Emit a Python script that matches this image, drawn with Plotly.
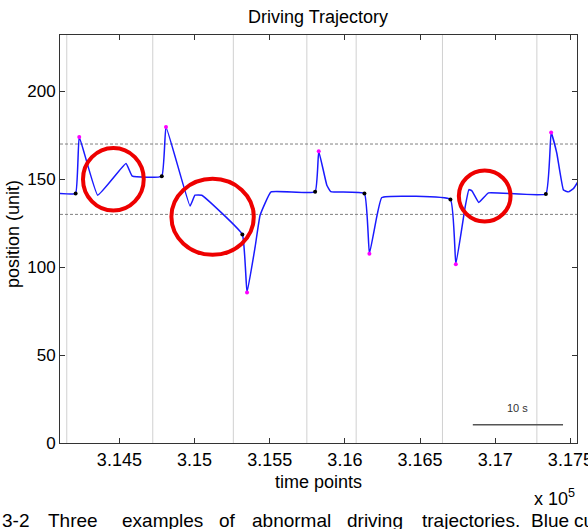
import plotly.graph_objects as go

# ---------------- data ----------------
# trajectory (time point, position)
traj_t = [314105, 314209, 314233, 314356, 314544, 314586, 314782, 314810, 314970,
          315003, 315048, 315318, 315349, 315403, 315436, 315509, 315802, 315826,
          315880, 315906, 316130, 316163, 316212, 316246, 316702, 316738, 316800,
          316825, 316845, 316891, 316955, 317337, 317372, 317410, 317454, 317487,
          317521, 317550]
traj_v = [141.9, 141.9, 174.0, 140.9, 158.9, 151.7, 151.7, 179.7, 134.7,
          140.9, 140.9, 118.6, 85.6, 111.5, 129.5, 142.8, 142.8, 165.9,
          146.6, 143.0, 141.9, 107.6, 128.6, 139.6, 138.5, 101.7, 134.3,
          144.1, 143.4, 136.8, 142.2, 141.6, 176.5, 164.6, 143.8, 142.8,
          144.7, 148.5]

# event onsets (black dots) and extreme points (magenta dots)
onset_t = [314209, 314782, 315318, 315802, 316130, 316702, 317337]
onset_v = [141.9, 151.7, 118.6, 142.8, 141.9, 138.5, 141.6]
peak_t = [314233, 314810, 315349, 315826, 316163, 316738, 317372]
peak_v = [174.0, 179.7, 85.6, 165.9, 107.6, 101.7, 176.5]

# trial boundaries (gray vertical lines)
boundary_t = [314150, 314722, 315258, 315747, 316075, 316649, 317277]

# lane thresholds (dashed lines)
thresholds = [170, 130]

# abnormal examples highlighted (t0, t1, v0, v1)
abnormal_t0 = [314258, 314846, 316758]
abnormal_t1 = [314662, 315394, 317102]
abnormal_v0 = [132.2, 107.0, 126.0]
abnormal_v1 = [167.8, 150.2, 154.9]

# scale bar: 600 time points = 10 s
scale_t0 = 316851
scale_len = 600
scale_v = 10.4
scale_label = "10 s"

x_range = [314105, 317544]
y_range = [0, 232]
x_tickvals = [314500, 315000, 315500, 316000, 316500, 317000, 317500]
x_ticktext = ["3.145", "3.15", "3.155", "3.16", "3.165", "3.17", "3.175"]
y_tickvals = [0, 50, 100, 150, 200]

caption_words = ["3-2", "Three", "examples", "of", "abnormal", "driving",
                 "trajectories.", "Blue", "curve:"]
caption_px = [0, 46, 120, 217, 250, 345, 420, 529, 572]

# ---------------- figure ----------------
FONT = "Liberation Sans, Arial, sans-serif"
W, H = 588, 529
ML, MR, MT, MB = 60, 11, 35, 86
PW, PH = W - ML - MR, H - MT - MB


def px_x(p):
    return (p - ML) / PW


def px_y(p):
    return (MT + PH - p) / PH


fig = go.Figure()

shapes = []
for bt in boundary_t:
    shapes.append(dict(type="line", xref="x", yref="paper", x0=bt, x1=bt, y0=0, y1=1,
                       line=dict(color="#d0d0d0", width=1), layer="below"))
for th in thresholds:
    shapes.append(dict(type="line", xref="paper", yref="y", x0=0, x1=1, y0=th, y1=th,
                       line=dict(color="#808080", width=1, dash="3px,2px"), layer="below"))

fig.add_trace(go.Scatter(x=traj_t, y=traj_v, mode="lines",
                         line=dict(color="#1a1aff", width=1.5, shape="spline", smoothing=0.3),
                         hoverinfo="skip"))
fig.add_trace(go.Scatter(x=onset_t, y=onset_v, mode="markers",
                         marker=dict(color="black", size=4), hoverinfo="skip"))
fig.add_trace(go.Scatter(x=peak_t, y=peak_v, mode="markers",
                         marker=dict(color="#ff00ff", size=4), hoverinfo="skip"))

for a0, a1, b0, b1 in zip(abnormal_t0, abnormal_t1, abnormal_v0, abnormal_v1):
    shapes.append(dict(type="circle", xref="x", yref="y", x0=a0, x1=a1, y0=b0, y1=b1,
                       line=dict(color="#ee0000", width=4)))

shapes.append(dict(type="line", xref="x", yref="y", x0=scale_t0, x1=scale_t0 + scale_len,
                   y0=scale_v, y1=scale_v, line=dict(color="#555555", width=1.5)))

annotations = [
    dict(x=scale_t0 + scale_len / 2, y=scale_v + 9.5, xref="x", yref="y",
         xanchor="center", yanchor="middle",
         text=scale_label, showarrow=False, font=dict(family=FONT, size=11, color="#333333")),
    dict(x=px_x(13), y=px_y(234), xref="paper", yref="paper",
         xanchor="center", yanchor="middle",
         text="position (unit)", textangle=-90, showarrow=False,
         font=dict(family=FONT, size=18, color="black")),
    dict(x=px_x(318), y=px_y(482), xref="paper", yref="paper",
         xanchor="center", yanchor="middle",
         text="time points", showarrow=False, font=dict(family=FONT, size=18, color="black")),
    dict(x=px_x(577), y=px_y(497), xref="paper", yref="paper",
         xanchor="right", yanchor="middle", text="x 10<sup>5</sup>", showarrow=False,
         font=dict(family=FONT, size=18, color="black")),
]
for wd, px in zip(caption_words, caption_px):
    annotations.append(dict(x=px_x(px), y=px_y(520), xref="paper", yref="paper",
                            xanchor="left", yanchor="middle", text=wd, showarrow=False,
                            font=dict(family=FONT, size=19, color="black")))

axis_common = dict(showline=True, linecolor="#333333", linewidth=1, mirror="ticks",
                   ticks="inside", ticklen=5, tickcolor="#333333", showgrid=False,
                   zeroline=False, automargin=False)

fig.update_layout(
    width=W, height=H, margin=dict(l=ML, r=MR, t=MT, b=MB, autoexpand=False),
    paper_bgcolor="white", plot_bgcolor="white", showlegend=False,
    title=dict(text="Driving Trajectory", x=318 / W, xanchor="center",
               y=1 - 17 / H, yanchor="middle", font=dict(family=FONT, size=18, color="black")),
    xaxis=dict(range=x_range, tickvals=x_tickvals, ticktext=x_ticktext,
               ticklabeloverflow="allow",
               tickfont=dict(family=FONT, size=18, color="black"), **axis_common),
    yaxis=dict(range=y_range, tickvals=y_tickvals,
               tickfont=dict(family=FONT, size=17, color="black"), **axis_common),
    shapes=shapes, annotations=annotations,
)

fig.write_html("out.html")
